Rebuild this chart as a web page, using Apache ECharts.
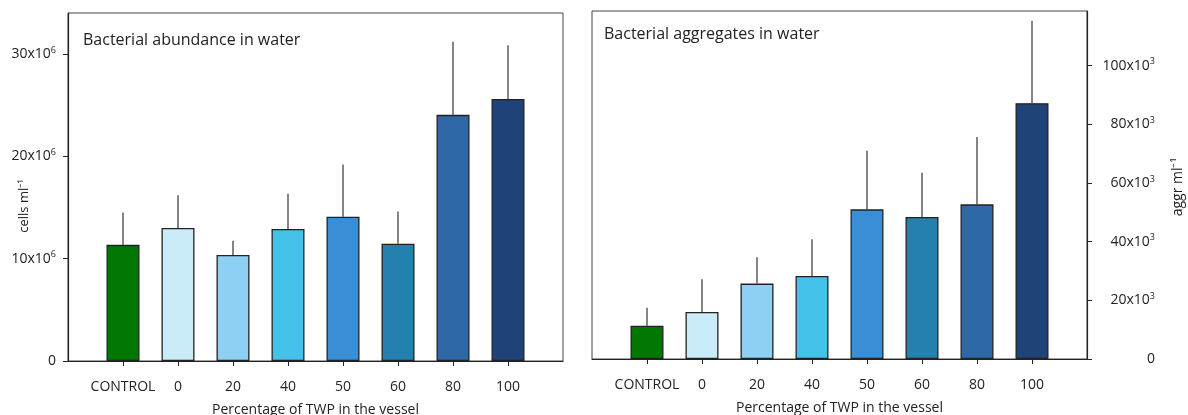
<!DOCTYPE html>
<html>
<head>
<meta charset="utf-8">
<script src="https://cdn.jsdelivr.net/npm/echarts@6/dist/echarts.min.js"></script>
<style>
html,body{margin:0;padding:0;background:#fff;}
#chart{width:1188px;height:415px;}
</style>
</head>
<body>
<div id="chart"></div>
<script>
// ---- data ----
const categories = ['CONTROL', '0', '20', '40', '50', '60', '80', '100'];
const barColors = ['#007800', '#CAECF8', '#8ED0F4', '#43C1E8', '#3A8ED6', '#2480AD', '#2E68A7', '#1F4278'];

// Bacterial abundance in water (cells ml-1)
const abundanceMean = [11.35e6, 13.0e6, 10.35e6, 12.9e6, 14.1e6, 11.45e6, 24.05e6, 25.6e6];
const abundanceErrTop = [14.5e6, 16.2e6, 11.75e6, 16.35e6, 19.2e6, 14.6e6, 31.2e6, 30.85e6];
const abundanceTicks = [0, 10e6, 20e6, 30e6];

// Bacterial aggregates in water (aggr ml-1)
const aggregatesMean = [11.35e3, 16.0e3, 25.7e3, 28.3e3, 51.0e3, 48.4e3, 52.7e3, 87.2e3];
const aggregatesErrTop = [17.5e3, 27.2e3, 34.7e3, 40.8e3, 71.0e3, 63.5e3, 75.7e3, 115.3e3];
const aggregatesTicks = [0, 20e3, 40e3, 60e3, 80e3, 100e3];

const titles = ['Bacterial abundance in water', 'Bacterial aggregates in water'];
const yNames = ['cells ml⁻¹', 'aggr ml⁻¹'];
const xName = 'Percentage of TWP in the vessel';

// ---- build ----
const FONT = 'Open Sans';
const TXT = '#222';
const axisCats = [''].concat(categories, ['']);

function barData(vals) {
  return vals.map((v, i) => ({ value: [i + 1, v], itemStyle: { color: barColors[i] } }));
}
function errData(vals, tops) {
  return vals.map((v, i) => [i + 1, v, tops[i]]);
}
function errRender(params, api) {
  const p0 = api.coord([api.value(0), api.value(1)]);
  const p1 = api.coord([api.value(0), api.value(2)]);
  return { type: 'line', shape: { x1: p0[0], y1: p0[1], x2: p1[0], y2: p1[1] },
           style: { stroke: '#333', lineWidth: 1.2 } };
}
const rich = {
  a: { fontFamily: FONT, fontSize: 14, color: TXT },
  s: { fontFamily: FONT, fontSize: 9, color: TXT, padding: [0, 0, 8, 0] }
};
function fmt(exp, div) {
  return function (v) {
    if (v === 0) return '{a|0}';
    return '{a|' + Math.round(v / div) + 'x10}{s|' + exp + '}';
  };
}
function xAxisCfg(gi) {
  return {
    type: 'category', gridIndex: gi, data: axisCats, boundaryGap: false,
    axisLine: { lineStyle: { color: '#222', width: 1.2 } },
    axisTick: { length: 5, interval: (idx) => idx > 0 && idx < axisCats.length - 1, lineStyle: { color: '#222' } },
    axisLabel: { interval: 0, fontFamily: FONT, fontSize: 14, color: TXT, margin: 19 },
    name: xName, nameLocation: 'middle', nameGap: 42,
    nameTextStyle: { fontFamily: FONT, fontSize: 14, color: TXT }
  };
}

const option = {
  animation: false,
  backgroundColor: '#fff',
  title: [
    { text: titles[0], left: 78, top: 27, textStyle: { fontFamily: FONT, fontSize: 16, fontWeight: 'normal', color: TXT } },
    { text: titles[1], left: 599, top: 21, textStyle: { fontFamily: FONT, fontSize: 16, fontWeight: 'normal', color: TXT } }
  ],
  graphic: [
    { type: 'text', x: 24, y: 206, rotation: Math.PI / 2,
      style: { text: yNames[0], fontFamily: FONT, fontSize: 13, fill: TXT, align: 'center', verticalAlign: 'middle' } },
    { type: 'text', x: 1178, y: 187, rotation: Math.PI / 2,
      style: { text: yNames[1], fontFamily: FONT, fontSize: 14, fill: TXT, align: 'center', verticalAlign: 'middle' } }
  ],
  grid: [
    { left: 68, top: 13, right: 625, bottom: 54, show: true, borderColor: '#444', borderWidth: 1,
      containLabel: false, outerBoundsMode: 'none' },
    { left: 592, top: 11, right: 101, bottom: 56, show: true, borderColor: '#444', borderWidth: 1,
      containLabel: false, outerBoundsMode: 'none' }
  ],
  xAxis: [xAxisCfg(0), xAxisCfg(1)],
  yAxis: [
    {
      type: 'value', gridIndex: 0, position: 'left', min: 0, max: 34e6, interval: 10e6,
      splitLine: { show: false },
      axisLine: { show: true, lineStyle: { color: '#222', width: 1.2 } },
      axisTick: { show: true, length: 5, customValues: abundanceTicks, lineStyle: { color: '#222' } },
      axisLabel: { customValues: abundanceTicks, formatter: fmt(6, 1e6), rich: rich, margin: 12 }
    },
    {
      type: 'value', gridIndex: 1, position: 'right', min: 0, max: 118.6e3, interval: 20e3,
      splitLine: { show: false },
      axisLine: { show: true, lineStyle: { color: '#222', width: 1.2 } },
      axisTick: { show: true, length: 5, customValues: aggregatesTicks, lineStyle: { color: '#222' } },
      axisLabel: { customValues: aggregatesTicks, formatter: fmt(3, 1e3), rich: rich, margin: 68, align: 'right' }
    }
  ],
  series: [
    { type: 'bar', xAxisIndex: 0, yAxisIndex: 0, barWidth: 33, data: barData(abundanceMean),
      itemStyle: { borderColor: '#222', borderWidth: 1.3 } },
    { type: 'custom', xAxisIndex: 0, yAxisIndex: 0, renderItem: errRender,
      encode: { x: 0, y: [1, 2] }, data: errData(abundanceMean, abundanceErrTop), z: 5 },
    { type: 'bar', xAxisIndex: 1, yAxisIndex: 1, barWidth: 33, data: barData(aggregatesMean),
      itemStyle: { borderColor: '#222', borderWidth: 1.3 } },
    { type: 'custom', xAxisIndex: 1, yAxisIndex: 1, renderItem: errRender,
      encode: { x: 0, y: [1, 2] }, data: errData(aggregatesMean, aggregatesErrTop), z: 5 }
  ]
};
const chart = echarts.init(document.getElementById('chart'), null, { renderer: 'canvas' });
chart.setOption(option);
</script>
</body>
</html>
